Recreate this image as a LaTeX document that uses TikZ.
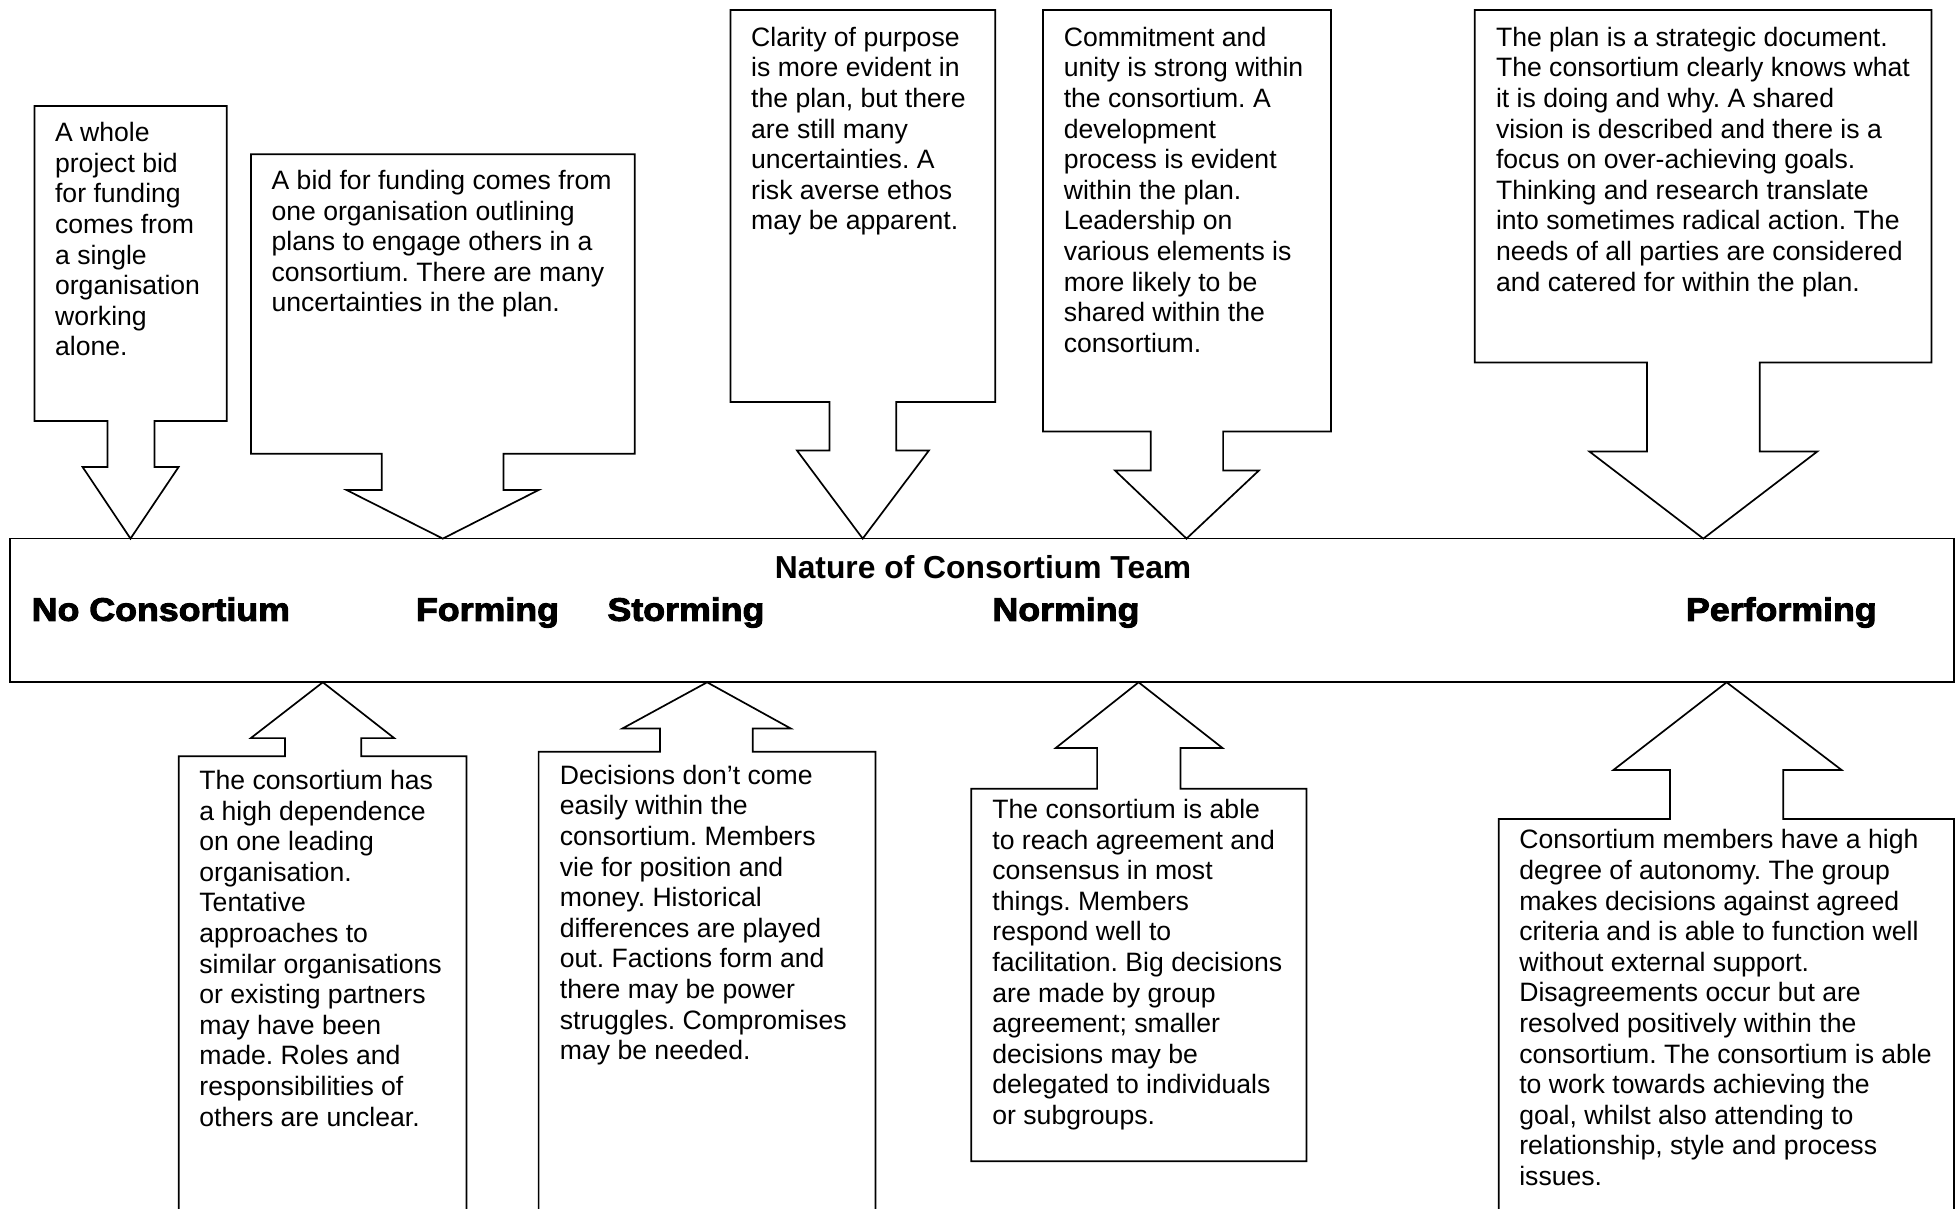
\documentclass[tikz,border=0pt]{standalone}
\usepackage{fontspec}
\setmainfont{Liberation Sans}
\newfontfamily\labelfont[FakeStretch=1.10,FakeBold=3]{Liberation Sans Bold}
\frenchspacing

% left-aligned block of lines; its baseline is that of the first line
\newcommand\lns[1]{\vtop{\baselineskip=30.6pt\lineskiplimit=-100pt\let\\\cr\halign{##\hfil\cr#1\crcr}}}

\tikzset{
  outline/.style={draw=black, line width=1.7pt, line join=miter},
  txt/.style={anchor=base west, inner sep=0pt, font=\fontsize{26.6}{30.6}\selectfont},
  stage/.style={anchor=base west, inner sep=0pt, font=\labelfont\fontsize{32.5}{36}\selectfont},
  heading/.style={anchor=base, inner sep=0pt, font=\bfseries\fontsize{31.8}{36}\selectfont}
}

\begin{document}
\begin{tikzpicture}[x=1pt,y=-1pt]
\useasboundingbox (0,0) rectangle (1955,1208);
\clip (0,0) rectangle (1955,1208);

% central band
\draw[outline] (9.8,538.6) rectangle (1953.8,682.3);

% callouts above the band, pointing down
\draw[outline] (34.5,106) -- (226.8,106) -- (226.8,421) -- (154.5,421) -- (154.5,467)
  -- (178.6,467) -- (130.5,538.6) -- (82.6,467) -- (107.5,467) -- (107.5,421) -- (34.5,421) -- cycle;
\draw[outline] (251,154.3) -- (634.8,154.3) -- (634.8,453.8) -- (503.5,453.8) -- (503.5,490)
  -- (538.7,490) -- (442.8,538.6) -- (346.5,490) -- (381.7,490) -- (381.7,453.8) -- (251,453.8) -- cycle;
\draw[outline] (730.5,10) -- (995.2,10) -- (995.2,402) -- (896.2,402) -- (896.2,450.5)
  -- (928.9,450.5) -- (862.7,538.6) -- (797,450.5) -- (829.5,450.5) -- (829.5,402) -- (730.5,402) -- cycle;
\draw[outline] (1043,10) -- (1331,10) -- (1331,431.5) -- (1223.1,431.5) -- (1223.1,470.5)
  -- (1258.9,470.5) -- (1186.5,538.6) -- (1115,470.5) -- (1150.7,470.5) -- (1150.7,431.5) -- (1043,431.5) -- cycle;
\draw[outline] (1474.8,10) -- (1931.4,10) -- (1931.4,362.5) -- (1759.8,362.5) -- (1759.8,451.5)
  -- (1817.3,451.5) -- (1703.3,538.6) -- (1589.4,451.5) -- (1647,451.5) -- (1647,362.5) -- (1474.8,362.5) -- cycle;

% callouts below the band, pointing up
\draw[outline] (178.8,1230) -- (178.8,756.3) -- (285,756.3) -- (285,738.1) -- (250.8,738.1)
  -- (322.8,682.3) -- (394.2,738.1) -- (361.3,738.1) -- (361.3,756.3) -- (466.5,756.3) -- (466.5,1230);
\draw[outline] (538.6,1230) -- (538.6,751.7) -- (659.9,751.7) -- (659.9,728.5) -- (622.4,728.5)
  -- (707.1,682.3) -- (790.8,728.5) -- (752.8,728.5) -- (752.8,751.7) -- (875.4,751.7) -- (875.4,1230);
\draw[outline] (971.3,1161.3) -- (971.3,788.8) -- (1097.1,788.8) -- (1097.1,748) -- (1055.7,748)
  -- (1138.6,682.3) -- (1222.5,748) -- (1180.4,748) -- (1180.4,788.8) -- (1306.5,788.8) -- (1306.5,1161.3) -- cycle;
\draw[outline] (1498.8,1230) -- (1498.8,819) -- (1670,819) -- (1670,770) -- (1613.4,770)
  -- (1726.6,682.3) -- (1841.6,770) -- (1783.3,770) -- (1783.3,819) -- (1954,819) -- (1954,1230);

% band labels
\node[heading] (title) at (983,578.5) {Nature of Consortium Team};
\node[stage] (s0) at (31.6,620.8) {No Consortium};
\node[stage] (s1) at (415.8,620.8) {Forming};
\node[stage] (s2) at (607.3,620.8) {Storming};
\node[stage] (s3) at (992.3,620.8) {Norming};
\node[stage] (s4) at (1685.8,620.8) {Performing};

% texts of the upper callouts
\node[txt] (tA) at (54.9,141.7) {\lns{A whole\\project bid\\for funding\\comes from\\a single\\organisation\\working\\alone.}};
\node[txt] (tB) at (271.4,189.4) {\lns{A bid for funding comes from\\one organisation outlining\\plans to engage others in a\\consortium. There are many\\uncertainties in the plan.}};
\node[txt] (tC) at (751,46.3) {\lns{Clarity of purpose\\is more evident in\\the plan, but there\\are still many\\uncertainties. A\\risk averse ethos\\may be apparent.}};
\node[txt] (tD) at (1063.6,46.3) {\lns{Commitment and\\unity is strong within\\the consortium. A\\development\\process is evident\\within the plan.\\Leadership on\\various elements is\\more likely to be\\shared within the\\consortium.}};
\node[txt] (tE) at (1495.8,46.3) {\lns{The plan is a strategic document.\\The consortium clearly knows what\\it is doing and why. A shared\\vision is described and there is a\\focus on over-achieving goals.\\Thinking and research translate\\into sometimes radical action. The\\needs of all parties are considered\\and catered for within the plan.}};

% texts of the lower callouts
\node[txt] (tF) at (199.2,789.5) {\lns{The consortium has\\a high dependence\\on one leading\\organisation.\\Tentative\\approaches to\\similar organisations\\or existing partners\\may have been\\made. Roles and\\responsibilities of\\others are unclear.}};
\node[txt] (tG) at (559.7,784.2) {\lns{Decisions don’t come\\easily within the\\consortium. Members\\vie for position and\\money. Historical\\differences are played\\out. Factions form and\\there may be power\\struggles. Compromises\\may be needed.}};
\node[txt] (tH) at (992.2,818.5) {\lns{The consortium is able\\to reach agreement and\\consensus in most\\things. Members\\respond well to\\facilitation. Big decisions\\are made by group\\agreement; smaller\\decisions may be\\delegated to individuals\\or subgroups.}};
\node[txt] (tI) at (1519.1,848.8) {\lns{Consortium members have a high\\degree of autonomy. The group\\makes decisions against agreed\\criteria and is able to function well\\without external support.\\Disagreements occur but are\\resolved positively within the\\consortium. The consortium is able\\to work towards achieving the\\goal, whilst also attending to\\relationship, style and process\\issues.}};
\end{tikzpicture}
\end{document}
